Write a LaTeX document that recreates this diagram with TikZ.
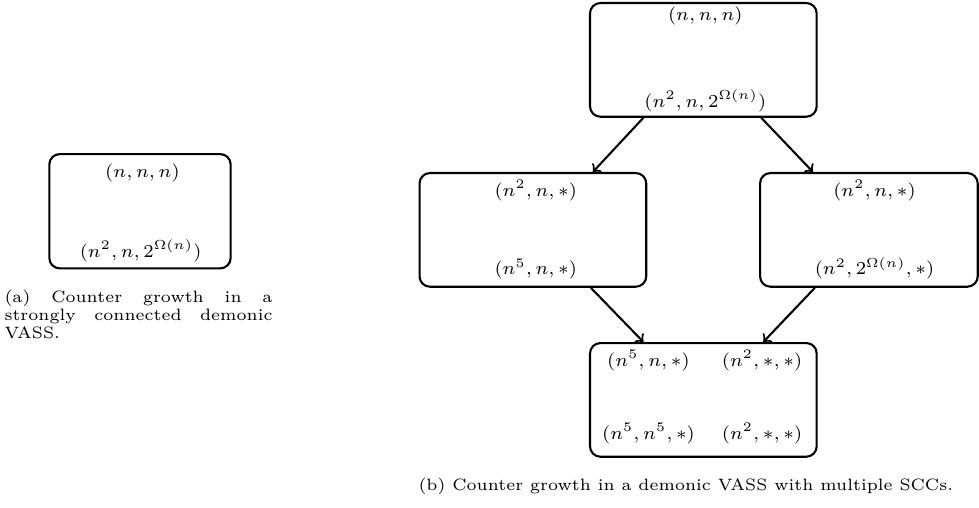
\documentclass[tikz,border=0pt]{standalone}
\usepackage{tikz}
\usepackage{amsmath}

\begin{document}
\begin{tikzpicture}[x=1cm,y=1cm,>=to,
  scc/.style={draw,thick,rounded corners,minimum width=3.051cm,minimum height=1.530cm,inner sep=0pt},
  vec/.style={anchor=base,inner sep=0pt,font=\fontsize{7.4}{8.8}\selectfont},
  subcaption/.style={inner sep=0pt,font=\fontsize{6.3}{7}\selectfont},
  flow/.style={->,thick}]
\useasboundingbox (0,0) rectangle (13.176,-6.837);
% (a) one SCC
\node[scc,minimum width=2.441cm,minimum height=1.538cm] (sccA) at (1.884,-2.843) {};
\node[vec] (sccA-in) at (1.918,-2.384) {$(n,n,n)$};
\node[vec] (sccA-out) at (1.893,-3.460) {$(n^2,n,2^{\Omega(n)})$};
\node[subcaption,anchor=base west,text width=3.607cm,align=justify] (capA) at (0.054,-4.065) {(a) Counter growth in a strongly connected demonic VASS.};
% (b) several SCCs
\node[scc] (sccTop) at (9.466,-0.806) {};
\node[vec] (sccTop-in) at (9.493,-0.275) {$(n,n,n)$};
\node[vec] (sccTop-out) at (9.493,-1.441) {$(n^2,n,2^{\Omega(n)})$};
\node[scc] (sccLeft) at (7.172,-3.094) {};
\node[vec] (sccLeft-in) at (7.211,-2.647) {$(n^2,n,*)$};
\node[vec] (sccLeft-out) at (7.211,-3.701) {$(n^5,n,*)$};
\node[scc,minimum width=2.930cm] (sccRight) at (11.694,-3.094) {};
\node[vec] (sccRight-in) at (11.770,-2.647) {$(n^2,n,*)$};
\node[vec] (sccRight-out) at (11.770,-3.701) {$(n^2,2^{\Omega(n)},*)$};
\node[scc] (sccBot) at (9.466,-5.382) {};
\node[vec] (sccBot-in1) at (8.728,-4.930) {$(n^5,n,*)$};
\node[vec] (sccBot-in2) at (10.256,-4.930) {$(n^2,*,*)$};
\node[vec] (sccBot-out1) at (8.728,-5.917) {$(n^5,n^5,*)$};
\node[vec] (sccBot-out2) at (10.256,-5.917) {$(n^2,*,*)$};
\node[subcaption,anchor=base] (capB) at (9.230,-6.604) {(b) Counter growth in a demonic VASS with multiple SCCs.};
% edges between SCCs
\draw[flow] (sccTop.224) -- (sccLeft.44);
\draw[flow] (sccTop.315) -- (sccRight.134);
\draw[flow] (sccLeft.315) -- (sccBot.136);
\draw[flow] (sccRight.227) -- (sccBot.44);
\end{tikzpicture}
\end{document}
